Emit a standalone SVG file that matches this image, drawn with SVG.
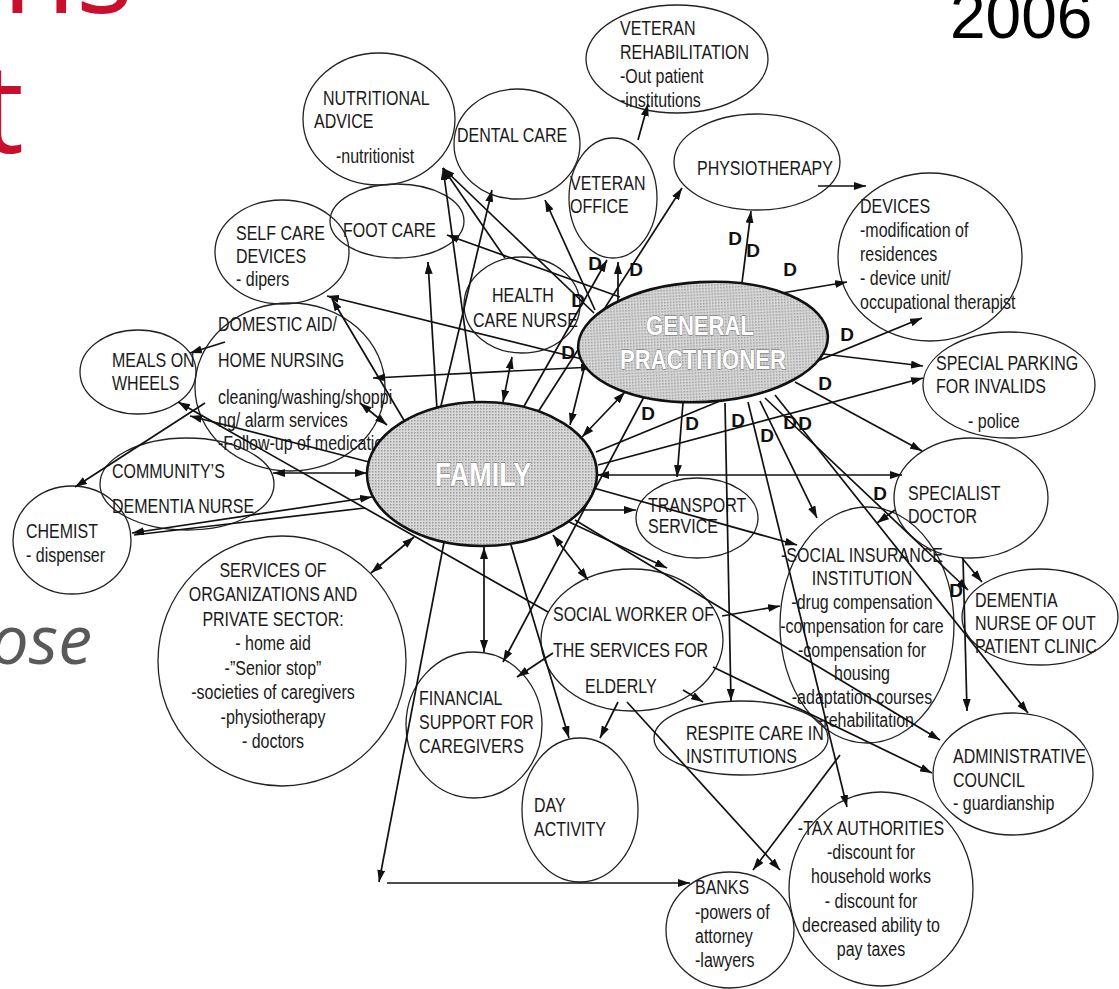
<svg xmlns="http://www.w3.org/2000/svg" width="1119" height="989" viewBox="0 0 1119 989">
<style>
.n{fill:none;stroke:#222;stroke-width:1.3}
.f{fill:url(#dots);stroke:#111;stroke-width:2.6}
.t{font-family:"Liberation Sans",Arial,sans-serif;font-size:19.5px;fill:#1a1a1a}
.m{text-anchor:middle}
.w{font-family:"Liberation Sans",Arial,sans-serif;font-weight:bold;fill:#fff;stroke:#666;stroke-width:0.8;paint-order:stroke;text-anchor:middle}
.c line{stroke:#111;stroke-width:1.7}
.e{marker-end:url(#ah)}
.b{marker-end:url(#ah);marker-start:url(#ah)}
.d{font-family:"Liberation Sans",Arial,sans-serif;font-weight:bold;font-size:19px;fill:#111;text-anchor:middle}
</style>
<defs>
<marker id="ah" viewBox="0 0 12 8" refX="12" refY="4" markerWidth="12" markerHeight="8" markerUnits="userSpaceOnUse" orient="auto-start-reverse"><path d="M0,0 L12,4 L0,8 z" fill="#111"/></marker>
<pattern id="dots" width="3" height="3" patternUnits="userSpaceOnUse"><rect width="3" height="3" fill="#d8d8d8"/><rect width="1.5" height="1.5" fill="#9c9c9c"/></pattern>
</defs>
<rect width="1119" height="989" fill="#fff"/>
<g id="title">
<text x="133" y="13" font-family="Open Sans,Liberation Sans,sans-serif" font-size="120" fill="#c8102e" text-anchor="end">ns</text>
<text x="24" y="153" font-family="Open Sans,Liberation Sans,sans-serif" font-size="125" fill="#c8102e" text-anchor="end">t</text>
<text x="92" y="664" font-family="Open Sans,Liberation Sans,sans-serif" font-size="68" font-style="italic" fill="#595959" text-anchor="end">ose</text>
<text x="950" y="38" font-family="Liberation Sans,Arial,sans-serif" font-size="64" fill="#000">2006</text>
</g>
<g id="vetrehab"><ellipse class="n" cx="677" cy="59" rx="91" ry="54"/><text class="t" transform="translate(620 35) scale(.82 1)">VETERAN</text><text class="t" transform="translate(620 59) scale(.82 1)">REHABILITATION</text><text class="t" transform="translate(620 83) scale(.82 1)">-Out patient</text><text class="t" transform="translate(620 107) scale(.82 1)">-institutions</text></g>
<g id="nutritional"><ellipse class="n" cx="379" cy="119" rx="76" ry="66"/><text class="t" transform="translate(323 105) scale(.82 1)">NUTRITIONAL</text><text class="t" transform="translate(314 128) scale(.82 1)">ADVICE</text><text class="t" transform="translate(336 163) scale(.82 1)">-nutritionist</text></g>
<g id="dental"><ellipse class="n" cx="517" cy="144" rx="63" ry="55"/><text class="t" transform="translate(457 142) scale(.82 1)">DENTAL CARE</text></g>
<g id="vetoffice"><ellipse class="n" cx="613" cy="198" rx="44" ry="60"/><text class="t" transform="translate(570 190) scale(.82 1)">VETERAN</text><text class="t" transform="translate(570 213) scale(.82 1)">OFFICE</text></g>
<g id="physio"><ellipse class="n" cx="757" cy="162" rx="83" ry="48"/><text class="t" transform="translate(697 175) scale(.82 1)">PHYSIOTHERAPY</text></g>
<g id="devices"><ellipse class="n" cx="930" cy="257" rx="92" ry="84"/><text class="t" transform="translate(860 213) scale(.82 1)">DEVICES</text><text class="t" transform="translate(860 237) scale(.82 1)">-modification of</text><text class="t" transform="translate(860 261) scale(.82 1)">residences</text><text class="t" transform="translate(860 285) scale(.82 1)">- device unit/</text><text class="t" transform="translate(860 309) scale(.82 1)">occupational therapist</text></g>
<g id="selfcare"><ellipse class="n" cx="282" cy="252" rx="67" ry="52"/><text class="t" transform="translate(236 240) scale(.82 1)">SELF CARE</text><text class="t" transform="translate(236 263) scale(.82 1)">DEVICES</text><text class="t" transform="translate(236 286) scale(.82 1)">- dipers</text></g>
<g id="footcare"><ellipse class="n" cx="397" cy="221" rx="67" ry="37"/><text class="t" transform="translate(343 237) scale(.82 1)">FOOT CARE</text></g>
<g id="health"><ellipse class="n" cx="522" cy="305" rx="58" ry="48"/><text class="t" transform="translate(492 302) scale(.82 1)">HEALTH</text><text class="t" transform="translate(473 327) scale(.82 1)">CARE NURSE</text></g>
<g id="domestic"><ellipse class="n" cx="290" cy="387" rx="95" ry="84"/><text class="t" transform="translate(218 331) scale(.82 1)">DOMESTIC  AID/</text><text class="t" transform="translate(218 367) scale(.82 1)">HOME NURSING</text><text class="t" transform="translate(218 404) scale(.82 1)">cleaning/washing/shoppi</text><text class="t" transform="translate(218 427) scale(.82 1)">ng/ alarm services</text><text class="t" transform="translate(218 450) scale(.82 1)">-Follow-up of medication</text></g>
<g id="meals"><ellipse class="n" cx="138" cy="372" rx="58" ry="42"/><text class="t" transform="translate(112 367) scale(.82 1)">MEALS ON</text><text class="t" transform="translate(112 390) scale(.82 1)">WHEELS</text></g>
<g id="community"><ellipse class="n" cx="187" cy="484" rx="87" ry="46"/><text class="t" transform="translate(112 478) scale(.82 1)">COMMUNITY’S</text><text class="t" transform="translate(112 513) scale(.82 1)">DEMENTIA NURSE</text></g>
<g id="chemist"><ellipse class="n" cx="72" cy="540" rx="59" ry="54"/><text class="t" transform="translate(26 538) scale(.82 1)">CHEMIST</text><text class="t" transform="translate(26 562) scale(.82 1)">- dispenser</text></g>
<g id="services"><ellipse class="n" cx="282" cy="661" rx="124" ry="125"/><text class="t m" transform="translate(273 577) scale(.82 1)">SERVICES OF</text><text class="t m" transform="translate(273 601) scale(.82 1)">ORGANIZATIONS AND</text><text class="t m" transform="translate(273 626) scale(.82 1)">PRIVATE SECTOR:</text><text class="t m" transform="translate(273 650) scale(.82 1)">- home aid</text><text class="t m" transform="translate(273 675) scale(.82 1)">-”Senior stop”</text><text class="t m" transform="translate(273 699) scale(.82 1)">-societies of caregivers</text><text class="t m" transform="translate(273 724) scale(.82 1)">-physiotherapy</text><text class="t m" transform="translate(273 748) scale(.82 1)">- doctors</text></g>
<g id="financial"><ellipse class="n" cx="474" cy="725" rx="68" ry="73"/><text class="t" transform="translate(419 705) scale(.82 1)">FINANCIAL</text><text class="t" transform="translate(419 729) scale(.82 1)">SUPPORT FOR</text><text class="t" transform="translate(419 753) scale(.82 1)">CAREGIVERS</text></g>
<g id="day"><ellipse class="n" cx="580" cy="810" rx="58" ry="72"/><text class="t" transform="translate(534 812) scale(.82 1)">DAY</text><text class="t" transform="translate(534 836) scale(.82 1)">ACTIVITY</text></g>
<g id="socialworker"><ellipse class="n" cx="632" cy="640" rx="91" ry="71"/><text class="t" transform="translate(553 621) scale(.82 1)">SOCIAL WORKER OF</text><text class="t" transform="translate(553 657) scale(.82 1)">THE SERVICES FOR</text><text class="t" transform="translate(585 693) scale(.82 1)">ELDERLY</text></g>
<g id="transport"><ellipse class="n" cx="697" cy="518" rx="61" ry="40"/><text class="t" transform="translate(648 512) scale(.82 1)">TRANSPORT</text><text class="t" transform="translate(648 533) scale(.82 1)">SERVICE</text></g>
<g id="socins"><ellipse class="n" cx="867" cy="625" rx="87" ry="118"/><text class="t m" transform="translate(862 562) scale(.82 1)">-SOCIAL INSURANCE</text><text class="t m" transform="translate(862 585) scale(.82 1)">INSTITUTION</text><text class="t m" transform="translate(862 609) scale(.82 1)">-drug compensation</text><text class="t m" transform="translate(862 633) scale(.82 1)">-compensation for care</text><text class="t m" transform="translate(862 657) scale(.82 1)">-compensation for</text><text class="t m" transform="translate(862 680) scale(.82 1)">housing</text><text class="t m" transform="translate(862 704) scale(.82 1)">-adaptation courses</text><text class="t m" transform="translate(866 727) scale(.82 1)">-rehabilitation</text></g>
<g id="specialist"><ellipse class="n" cx="971" cy="498" rx="77" ry="60"/><text class="t" transform="translate(908 500) scale(.82 1)">SPECIALIST</text><text class="t" transform="translate(908 523) scale(.82 1)">DOCTOR</text></g>
<g id="parking"><ellipse class="n" cx="1009" cy="385" rx="86" ry="53"/><text class="t" transform="translate(936 370) scale(.82 1)">SPECIAL PARKING</text><text class="t" transform="translate(936 393) scale(.82 1)">FOR INVALIDS</text><text class="t" transform="translate(968 428) scale(.82 1)">- police</text></g>
<g id="dementia"><ellipse class="n" cx="1040" cy="617" rx="78" ry="48"/><text class="t" transform="translate(975 607) scale(.82 1)">DEMENTIA</text><text class="t" transform="translate(975 630) scale(.82 1)">NURSE OF OUT</text><text class="t" transform="translate(975 653) scale(.82 1)">PATIENT CLINIC</text></g>
<g id="respite"><ellipse class="n" cx="741" cy="738" rx="87" ry="37"/><text class="t" transform="translate(686 740) scale(.82 1)">RESPITE CARE IN</text><text class="t" transform="translate(686 763) scale(.82 1)">INSTITUTIONS</text></g>
<g id="admin"><ellipse class="n" cx="1013" cy="774" rx="80" ry="61"/><text class="t" transform="translate(953 763) scale(.82 1)">ADMINISTRATIVE</text><text class="t" transform="translate(953 787) scale(.82 1)">COUNCIL</text><text class="t" transform="translate(953 810) scale(.82 1)">- guardianship</text></g>
<g id="tax"><ellipse class="n" cx="881" cy="889" rx="92" ry="97"/><text class="t m" transform="translate(871 835) scale(.82 1)">-TAX AUTHORITIES</text><text class="t m" transform="translate(871 859) scale(.82 1)">-discount for</text><text class="t m" transform="translate(871 883) scale(.82 1)">household works</text><text class="t m" transform="translate(871 908) scale(.82 1)">- discount for</text><text class="t m" transform="translate(871 932) scale(.82 1)">decreased ability to</text><text class="t m" transform="translate(871 956) scale(.82 1)">pay taxes</text></g>
<g id="banks"><ellipse class="n" cx="730" cy="930" rx="64" ry="58"/><text class="t" transform="translate(695 894) scale(.82 1)">BANKS</text><text class="t" transform="translate(695 919) scale(.82 1)">-powers of</text><text class="t" transform="translate(695 943) scale(.82 1)">attorney</text><text class="t" transform="translate(695 967) scale(.82 1)">-lawyers</text></g>
<g id="connectors" class="c">
<line class="e" x1="638" y1="140" x2="648" y2="104"/>
<line class="e" x1="742" y1="283" x2="751" y2="211"/>
<line class="e" x1="782" y1="293" x2="847" y2="282"/>
<line class="e" x1="818" y1="186" x2="866" y2="186"/>
<line class="e" x1="596" y1="452" x2="922" y2="318"/>
<line class="e" x1="815" y1="353" x2="923" y2="366"/>
<line class="e" x1="598" y1="465" x2="923" y2="378"/>
<line class="e" x1="795" y1="382" x2="922" y2="451"/>
<line class="b" x1="597" y1="475" x2="902" y2="475"/>
<line class="e" x1="895" y1="510" x2="877" y2="523"/>
<line class="e" x1="962" y1="558" x2="982" y2="582"/>
<line class="e" x1="963" y1="558" x2="967" y2="711"/>
<line class="e" x1="765" y1="398" x2="968" y2="590"/>
<line class="e" x1="775" y1="395" x2="1028" y2="713"/>
<line class="e" x1="683" y1="403" x2="677" y2="477"/>
<line class="e" x1="725" y1="403" x2="731" y2="701"/>
<line class="e" x1="760" y1="401" x2="817" y2="518"/>
<line class="e" x1="748" y1="402" x2="847" y2="807"/>
<line class="e" x1="590" y1="487" x2="797" y2="545"/>
<line class="e" x1="580" y1="510" x2="636" y2="510"/>
<line class="b" x1="553" y1="535" x2="588" y2="580"/>
<line class="e" x1="575" y1="520" x2="940" y2="740"/>
<line class="e" x1="565" y1="520" x2="667" y2="568"/>
<line class="e" x1="722" y1="616" x2="780" y2="606"/>
<line class="e" x1="683" y1="690" x2="703" y2="702"/>
<line class="e" x1="618" y1="702" x2="600" y2="738"/>
<line class="e" x1="627" y1="702" x2="780" y2="870"/>
<line class="e" x1="840" y1="755" x2="753" y2="870"/>
<line class="e" x1="553" y1="653" x2="517" y2="677"/>
<line class="b" x1="484" y1="547" x2="484" y2="652"/>
<line class="e" x1="645" y1="395" x2="503" y2="662"/>
<line class="e" x1="511" y1="545" x2="569" y2="738"/>
<line class="b" x1="414" y1="537" x2="371" y2="573"/>
<line class="b" x1="372" y1="497" x2="132" y2="533"/>
<line x1="365" y1="508" x2="134" y2="535"/>
<line class="e" x1="205" y1="403" x2="75" y2="487"/>
<line class="e" x1="225" y1="342" x2="190" y2="353"/>
<line class="b" x1="273" y1="473" x2="367" y2="473"/>
<line class="b" x1="360" y1="403" x2="387" y2="425"/>
<line class="b" x1="593" y1="367" x2="373" y2="378"/>
<line class="b" x1="594" y1="362" x2="327" y2="296"/>
<line class="e" x1="405" y1="422" x2="332" y2="299"/>
<line class="e" x1="437" y1="410" x2="428" y2="262"/>
<line class="e" x1="440" y1="410" x2="492" y2="190"/>
<line class="e" x1="620" y1="297" x2="447" y2="235"/>
<line class="e" x1="475" y1="403" x2="443" y2="168"/>
<line class="e" x1="594" y1="313" x2="443" y2="168"/>
<line class="e" x1="505" y1="258" x2="443" y2="168"/>
<line class="e" x1="595" y1="310" x2="545" y2="200"/>
<line class="e" x1="523" y1="408" x2="607" y2="260"/>
<line class="e" x1="618" y1="307" x2="618" y2="262"/>
<line class="e" x1="538" y1="412" x2="682" y2="188"/>
<line class="b" x1="512" y1="357" x2="503" y2="402"/>
<line class="b" x1="625" y1="392" x2="582" y2="437"/>
<line class="e" x1="588" y1="353" x2="570" y2="425"/>
<line class="e" x1="369" y1="462" x2="190" y2="416"/>
<line class="e" x1="548" y1="612" x2="178" y2="402"/>
<line class="e" x1="445" y1="537" x2="379" y2="882"/>
<line class="e" x1="387" y1="883" x2="690" y2="883"/>
<line class="e" x1="713" y1="667" x2="932" y2="773"/>
</g>
<g id="gp"><ellipse class="f" cx="703" cy="342" rx="125" ry="60" transform="rotate(-3 703 342)"/><text class="w" font-size="27" transform="translate(700 335) scale(.82 1)">GENERAL</text><text class="w" font-size="27" transform="translate(703 369) scale(.82 1)">PRACTITIONER</text></g>
<g id="family"><ellipse class="f" cx="482" cy="474" rx="115" ry="72"/><text class="w" font-size="33" transform="translate(483 486) scale(.82 1)">FAMILY</text></g>
<g id="labels">
<text class="d" x="735" y="245">D</text><text class="d" x="753" y="257">D</text><text class="d" x="790" y="276">D</text>
<text class="d" x="595" y="270">D</text><text class="d" x="636" y="276">D</text><text class="d" x="578" y="307">D</text>
<text class="d" x="568" y="359">D</text><text class="d" x="847" y="341">D</text><text class="d" x="825" y="390">D</text>
<text class="d" x="648" y="420">D</text><text class="d" x="692" y="430">D</text><text class="d" x="738" y="427">D</text>
<text class="d" x="767" y="442">D</text><text class="d" x="790" y="429">D</text><text class="d" x="805" y="430">D</text>
<text class="d" x="880" y="500">D</text><text class="d" x="956" y="597">D</text>
</g>
</svg>
